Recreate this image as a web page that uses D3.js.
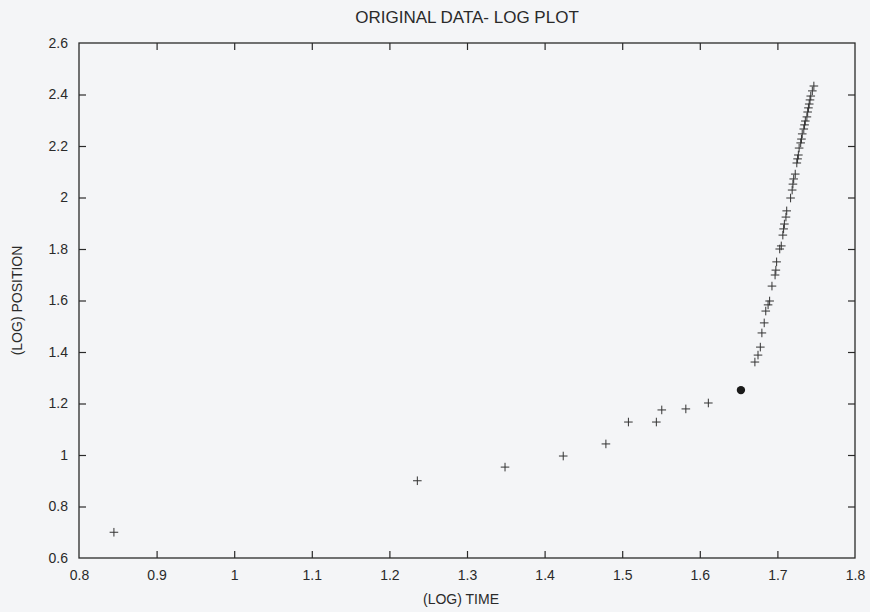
<!DOCTYPE html>
<html>
<head>
<meta charset="utf-8">
<script src="https://cdn.jsdelivr.net/npm/d3@7"></script>
<style>
  html, body { margin: 0; padding: 0; background: #f4f5f7; }
  svg { display: block; }
  text { font-family: "Liberation Sans", Arial, Helvetica, sans-serif; fill: #2a2a2a; }
</style>
</head>
<body>
<svg id="chart" width="870" height="612"></svg>
<script>
// ---- data ----
const title = "ORIGINAL DATA- LOG PLOT";
const xLabel = "(LOG) TIME";
const yLabel = "(LOG) POSITION";
const xTicks = [0.8, 0.9, 1.0, 1.1, 1.2, 1.3, 1.4, 1.5, 1.6, 1.7, 1.8];
const yTicks = [0.6, 0.8, 1.0, 1.2, 1.4, 1.6, 1.8, 2.0, 2.2, 2.4, 2.6];

const logTime = [
  0.845, 1.236, 1.349, 1.424, 1.479, 1.508, 1.544, 1.551, 1.582, 1.611,
  1.671, 1.675, 1.678, 1.680, 1.683, 1.685, 1.688, 1.690, 1.693, 1.697,
  1.698, 1.699, 1.703, 1.705, 1.707, 1.708, 1.709, 1.711, 1.712, 1.717,
  1.719, 1.720, 1.721, 1.723, 1.725, 1.726, 1.727, 1.728, 1.730, 1.731,
  1.732, 1.734, 1.735, 1.736, 1.738, 1.739, 1.740, 1.741, 1.742, 1.743,
  1.745, 1.747
];
const logPosition = [
  0.700, 0.900, 0.953, 0.996, 1.043, 1.128, 1.128, 1.175, 1.179, 1.202,
  1.361, 1.388, 1.419, 1.474, 1.513, 1.559, 1.583, 1.598, 1.656, 1.699,
  1.718, 1.750, 1.800, 1.812, 1.854, 1.878, 1.897, 1.924, 1.948, 1.998,
  2.029, 2.052, 2.072, 2.091, 2.134, 2.150, 2.165, 2.192, 2.212, 2.227,
  2.247, 2.266, 2.282, 2.297, 2.313, 2.332, 2.348, 2.363, 2.379, 2.394,
  2.414, 2.433
];
// highlighted point (filled dot)
const dotTime = [1.653];
const dotPosition = [1.252];

// ---- layout ----
const svg = d3.select("#chart");
const mLeft = 79, mRight = 855, mTop = 43, mBottom = 558;
const x = d3.scaleLinear().domain([0.8, 1.8]).range([mLeft, mRight]);
const y = d3.scaleLinear().domain([0.6, 2.6]).range([mBottom, mTop]);
const ink = "#2a2a2a";
const tickLen = 7;
const fmt = d => (Math.abs(d - Math.round(d)) < 1e-9 ? d3.format("d")(d) : d3.format(".1f")(d));

// axes (ticks inside, mirrored)
const gxB = svg.append("g").attr("transform", `translate(0,${mBottom})`)
  .call(d3.axisBottom(x).tickValues(xTicks).tickFormat(fmt).tickSizeInner(-tickLen).tickSizeOuter(0).tickPadding(12));
const gxT = svg.append("g").attr("transform", `translate(0,${mTop})`)
  .call(d3.axisTop(x).tickValues(xTicks).tickFormat("").tickSizeInner(-tickLen).tickSizeOuter(0));
const gyL = svg.append("g").attr("transform", `translate(${mLeft},0)`)
  .call(d3.axisLeft(y).tickValues(yTicks).tickFormat(fmt).tickSizeInner(-tickLen).tickSizeOuter(0).tickPadding(11));
const gyR = svg.append("g").attr("transform", `translate(${mRight},0)`)
  .call(d3.axisRight(y).tickValues(yTicks).tickFormat("").tickSizeInner(-tickLen).tickSizeOuter(0));

[gxB, gxT, gyL, gyR].forEach(g => {
  g.select(".domain").remove();
  g.selectAll(".tick line").attr("stroke", ink).attr("stroke-width", 1.2);
  g.selectAll(".tick text").style("font-size", "14px").attr("fill", ink);
});
// remove ticks that sit on the frame corners
[gxB, gxT].forEach(g => g.selectAll(".tick line").filter(d => d === 0.8 || d === 1.8).remove());
[gyL, gyR].forEach(g => g.selectAll(".tick line").filter(d => d === 0.6 || d === 2.6).remove());

// frame
svg.append("rect")
  .attr("x", mLeft).attr("y", mTop)
  .attr("width", mRight - mLeft).attr("height", mBottom - mTop)
  .attr("fill", "none").attr("stroke", ink).attr("stroke-width", 1.3);

// points (plus markers)
const pts = logTime.map((t, i) => ({ t, p: logPosition[i] }));
const s = 4.3;
svg.append("g").selectAll("path").data(pts).join("path")
  .attr("d", d => {
    const cx = x(d.t), cy = y(d.p);
    return `M${cx - s},${cy}H${cx + s}M${cx},${cy - s}V${cy + s}`;
  })
  .attr("stroke", "#333").attr("stroke-width", 1).attr("fill", "none");

// filled dot
svg.append("g").selectAll("circle").data(dotTime.map((t, i) => ({ t, p: dotPosition[i] }))).join("circle")
  .attr("cx", d => x(d.t)).attr("cy", d => y(d.p)).attr("r", 4.2).attr("fill", "#1a1a1a");

// titles
svg.append("text").attr("x", 467).attr("y", 23)
  .attr("text-anchor", "middle").style("font-size", "17px").text(title);
svg.append("text").attr("x", 461).attr("y", 604)
  .attr("text-anchor", "middle").style("font-size", "14px").text(xLabel);
svg.append("text").attr("transform", `translate(22,${(mTop + mBottom) / 2}) rotate(-90)`)
  .attr("text-anchor", "middle").style("font-size", "14px").text(yLabel);
</script>
</body>
</html>
